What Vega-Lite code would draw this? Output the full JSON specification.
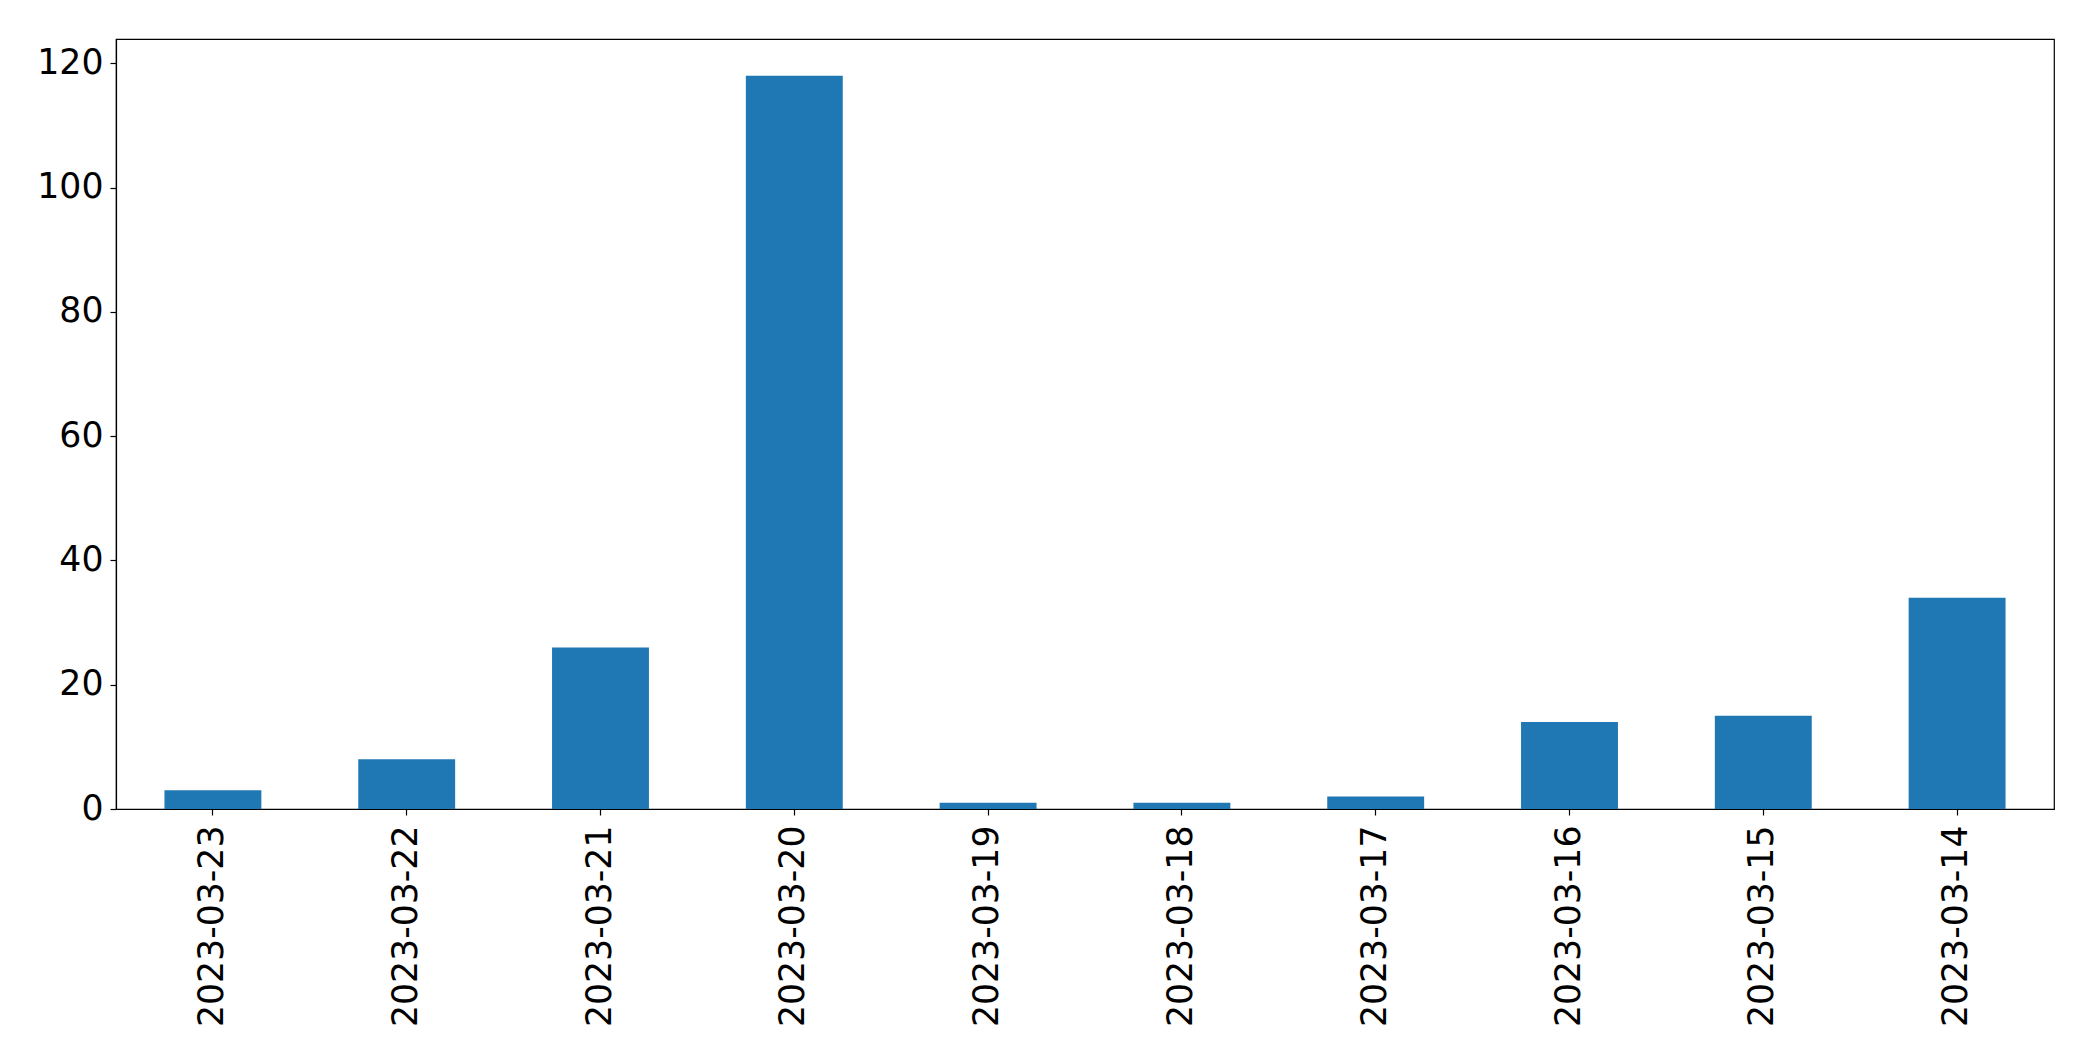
{
  "$schema": "https://vega.github.io/schema/vega-lite/v6.json",
  "width": 1938,
  "height": 770,
  "autosize": {"type": "none"},
  "padding": {"left": 116, "top": 39, "right": 39, "bottom": 252},
  "background": "white",
  "config": {
    "view": {"stroke": "black", "strokeWidth": 1.2},
    "font": "DejaVu Sans"
  },
  "data": {
    "values": [
      {"date": "2023-03-23", "count": 3},
      {"date": "2023-03-22", "count": 8},
      {"date": "2023-03-21", "count": 26},
      {"date": "2023-03-20", "count": 118},
      {"date": "2023-03-19", "count": 1},
      {"date": "2023-03-18", "count": 1},
      {"date": "2023-03-17", "count": 2},
      {"date": "2023-03-16", "count": 14},
      {"date": "2023-03-15", "count": 15},
      {"date": "2023-03-14", "count": 34}
    ]
  },
  "mark": {"type": "bar", "color": "#1f77b4"},
  "encoding": {
    "x": {
      "field": "date",
      "type": "nominal",
      "sort": null,
      "scale": {"paddingInner": 0.5, "paddingOuter": 0.25},
      "axis": {
        "title": null,
        "labelAngle": -90,
        "labelLimit": 0,
        "labelFont": "DejaVu Sans",
        "labelFontSize": 34.7,
        "labelColor": "black",
        "labelPadding": 10,
        "tickSize": 6,
        "tickColor": "black",
        "domainColor": "black",
        "tickWidth": 1.2,
        "domainWidth": 1.2
      }
    },
    "y": {
      "field": "count",
      "type": "quantitative",
      "scale": {"domain": [0, 123.9], "nice": false},
      "axis": {
        "title": null,
        "values": [0, 20, 40, 60, 80, 100, 120],
        "grid": false,
        "labelFont": "DejaVu Sans",
        "labelFontSize": 34.7,
        "labelColor": "black",
        "labelPadding": 7,
        "tickSize": 6,
        "tickColor": "black",
        "domainColor": "black",
        "tickWidth": 1.2,
        "domainWidth": 1.2
      }
    }
  }
}
